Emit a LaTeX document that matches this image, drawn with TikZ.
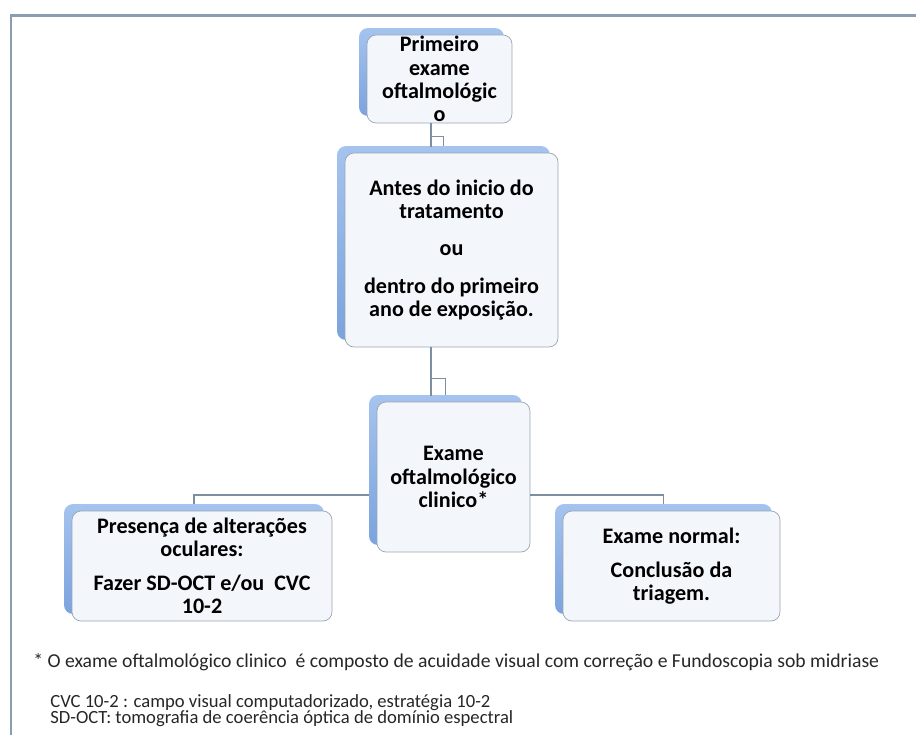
\documentclass[tikz,border=0pt]{standalone}
\usepackage{fontspec}
\setmainfont{Carlito}
\usetikzlibrary{shadows}
\definecolor{framegray}{HTML}{8D9DB0}
\definecolor{boxblue}{HTML}{7BA3DE}
\definecolor{boxbluelight}{HTML}{A5C3EE}
\definecolor{boxface}{HTML}{F3F6FB}
\definecolor{boxedge}{HTML}{9AA5B3}
\definecolor{linkgray}{HTML}{7F8E9F}
\tikzset{blok/.style = {draw=boxedge, fill=boxface, rounded corners=.18cm, align=center,
    inner sep=0pt, font=\bfseries\fontsize{12.6}{13.2}\selectfont,
    general shadow={top color=boxbluelight, bottom color=boxblue, shadow xshift=-.16cm, shadow yshift=.14cm}},
  link/.style = {draw=linkgray, line width=.6pt},
  note/.style = {anchor=west, inner sep=0pt, text=black!85, font=\fontsize{10.6}{12}\selectfont}}

\begin{document}
\begin{tikzpicture}[x=.02cm, y=-.02cm]
  \useasboundingbox (0,0) rectangle (916,735);
  \draw[framegray, line width=1.7pt] (11,735) -- (11,15) -- (916,15);

  \node[blok, minimum width=2.9cm, minimum height=1.76cm] (b1) at (439.5,79)
    {Primeiro\\exame\\oftalmológic\\o};
  \node[blok, minimum width=4.26cm, minimum height=3.88cm] (b2) at (451.5,250)
    {Antes do inicio do\\tratamento\\[8pt]ou\\[8pt]dentro do primeiro\\ano de exposição.};
  \node[blok, minimum width=3.06cm, minimum height=3cm] (b3) at (453.5,477)
    {Exame\\oftalmológico\\clinico*};
  \node[blok, minimum width=5.2cm, minimum height=2.2cm] (bl) at (202,566)
    {Presença de alterações\\oculares:\\[6pt]Fazer SD-OCT e/ou\ \ CVC\\10-2};
  \node[blok, minimum width=4.34cm, minimum height=2.2cm] (br) at (671.5,566)
    {Exame normal:\\[6pt]Conclusão da\\triagem.};

  \draw[link] ([xshift=-.17cm]b1.south) -- ++(0,24);
  \draw[link] ([xshift=-.17cm]b1.south) ++(0,13) -| ([xshift=-.16cm,yshift=.14cm]b2.north);
  \draw[link] ([xshift=-.41cm]b2.south) -- ++(0,49);
  \draw[link] ([xshift=-.41cm]b2.south) ++(0,31) -| ([xshift=-.16cm,yshift=.14cm]b3.north);
  \draw[link] ([xshift=-.16cm,yshift=-.36cm]b3.west) -| ([xshift=-.16cm,yshift=.14cm]bl.north);
  \draw[link] ([yshift=-.36cm]b3.east) -| ([xshift=-.16cm,yshift=.14cm]br.north);

  \node[note, font=\fontsize{11.2}{12}\selectfont] (n1) at (33,662)
    {* O exame oftalmológico clinico\ \ é composto de acuidade visual com correção e Fundoscopia sob midriase};
  \node[note] (n2) at (50,703) {CVC 10-2 : campo visual computadorizado, estratégia 10-2};
  \node[note] (n3) at (50,719) {SD-OCT: tomografia de coerência óptica de domínio espectral};
\end{tikzpicture}
\end{document}
